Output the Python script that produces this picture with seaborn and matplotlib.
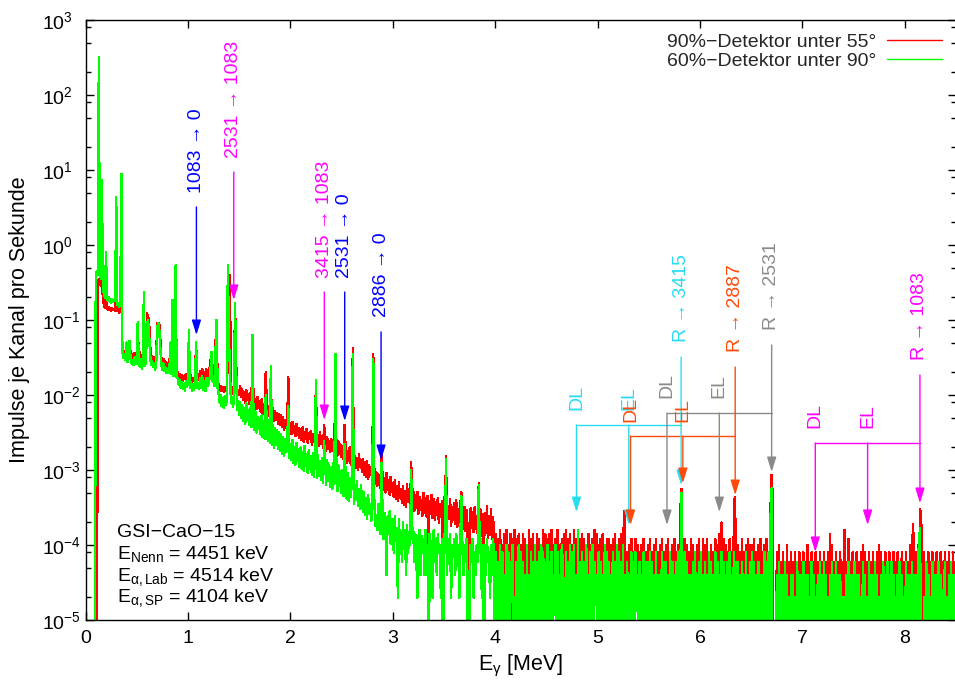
import numpy as np
import pandas as pd
import matplotlib
matplotlib.use("Agg")
import matplotlib.pyplot as plt
from matplotlib.lines import Line2D
from matplotlib.ticker import FixedLocator, LogLocator, LogFormatterMathtext, NullFormatter
import seaborn as sns

# ---------------------------------------------------------------------------
# Spectrum data, 10 keV bins
# 0.00-3.99 MeV: log10(rate / s^-1) in hundredths of a decade (-700 = empty bin)
# ---------------------------------------------------------------------------
red_log_lo = [
    -700, -700, -700, -700, -700, -700, -700, -700, -700, -700,
    -700, -700, -52, -45, -50, -55, -48, -70, -80, -84,
    -40, -84, -87, -83, -86, -88, -84, -87, -85, -88,
    -60, -88, -86, -90, -87, -40, -138, -145, -141, -148,
    -135, -150, -141, -135, -143, -152, -146, -149, -144, -151,
    -146, -103, -150, -143, -153, -147, -155, -75, -149, -154,
    -91, -95, -100, -130, -152, -148, -156, -150, -158, -153,
    -104, -108, -104, -125, -150, -157, -152, -160, -155, -161,
    -158, -163, -157, -130, -162, -90, -166, -160, -40, -168,
    -170, -176, -172, -179, -173, -181, -175, -178, -172, -182,
    -176, -125, -179, -174, -183, -177, -180, -174, -130, -182,
    -172, -180, -168, -177, -165, -179, -170, -182, -166, -176,
    -175, -168, -153, -178, -170, -160, -176, -130, -104, -180,
    -187, -193, -188, -195, -190, -196, -189, -194, -191, -150,
    -120, -40, -196, -190, -199, -192, -77, -150, -201, -195,
    -200, -188, -203, -192, -207, -196, -210, -194, -206, -199,
    -212, -197, -214, -130, -201, -216, -205, -219, -203, -217,
    -208, -222, -206, -225, -212, -224, -169, -213, -228, -215,
    -230, -185, -232, -218, -235, -221, -233, -224, -238, -226,
    -240, -227, -243, -230, -246, -233, -241, -236, -176, -249,
    -238, -252, -236, -250, -241, -255, -239, -253, -244, -257,
    -246, -260, -243, -262, -249, -258, -245, -264, -251, -259,
    -248, -266, -252, -263, -257, -185, -270, -254, -268, -250,
    -265, -255, -271, -240, -258, -274, -256, -272, -261, -276,
    -259, -275, -263, -278, -155, -270, -281, -262, -279, -266,
    -283, -268, -286, -240, -272, -290, -275, -288, -270, -293,
    -278, -137, -294, -281, -297, -284, -300, -279, -296, -287,
    -302, -285, -306, -290, -309, -288, -312, -294, -307, -296,
    -315, -145, -298, -318, -303, -321, -306, -316, -324, -273,
    -308, -327, -311, -330, -304, -326, -314, -333, -309, -329,
    -318, -336, -314, -339, -322, -341, -316, -337, -325, -344,
    -321, -346, -328, -349, -319, -343, -331, -352, -289, -347,
    -326, -355, -333, -350, -329, -358, -336, -353, -340, -361,
    -331, -357, -338, -362, -335, -400, -341, -359, -333, -364,
    -339, -366, -343, -360, -337, -370, -345, -363, -341, -470,
    -336, -368, -282, -371, -348, -365, -339, -374, -350, -367,
    -344, -372, -340, -376, -352, -369, -346, -330, -355, -378,
    -349, -381, -353, -374, -700, -385, -351, -377, -356, -383,
    -350, -379, -362, -386, -317, -380, -354, -388, -359, -410,
    -357, -384, -348, -391, -361, -387, -352, -392, -363, -389,
]

green_log_lo = [
    -700, -700, -700, -700, -700, -700, -700, -700, -700, -700,
    -45, -35, -40, 250, -38, -45, 87, -55, -65, -70,
    -10, -72, -75, -70, -74, -77, -72, -76, -73, -75,
    64, -80, -78, -82, -79, 95, -142, -150, -146, -153,
    -130, -156, -148, -128, -151, -158, -153, -160, -150, -157,
    -159, -103, -155, -162, -152, -165, -158, -63, -161, -156,
    -110, -100, -115, -145, -160, -155, -163, -158, -166, -161,
    -110, -104, -112, -135, -160, -166, -158, -168, -163, -170,
    -166, -171, -165, -130, -172, -73, -175, -168, -27, -176,
    -178, -186, -180, -190, -183, -192, -185, -194, -181, -189,
    -185, -113, -191, -183, -195, -186, -193, -184, -130, -190,
    -184, -192, -178, -190, -175, -193, -181, -195, -177, -188,
    -186, -179, -170, -143, -182, -175, -188, -140, -100, -191,
    -198, -210, -200, -215, -204, -217, -201, -213, -206, -27,
    -120, -165, -210, -203, -216, -206, -77, -160, -220, -208,
    -227, -210, -231, -213, -235, -217, -238, -211, -233, -220,
    -240, -218, -243, -120, -226, -247, -222, -250, -229, -245,
    -231, -253, -227, -256, -235, -258, -200, -238, -261, -233,
    -264, -161, -267, -240, -270, -244, -266, -247, -272, -250,
    -275, -252, -278, -256, -281, -259, -276, -262, -215, -284,
    -266, -287, -260, -290, -269, -293, -264, -288, -272, -296,
    -270, -298, -276, -301, -268, -295, -279, -304, -273, -299,
    -282, -306, -277, -309, -286, -180, -311, -280, -308, -288,
    -313, -284, -317, -262, -290, -320, -287, -315, -293, -322,
    -296, -325, -291, -318, -145, -299, -328, -294, -321, -302,
    -331, -300, -335, -265, -308, -338, -304, -341, -311, -336,
    -318, -145, -345, -322, -340, -315, -348, -326, -352, -320,
    -343, -356, -330, -360, -338, -365, -334, -358, -346, -368,
    -352, -152, -339, -374, -360, -380, -345, -371, -385, -290,
    -350, -392, -357, -370, -440, -362, -385, -355, -398, -366,
    -372, -410, -361, -395, -378, -470, -365, -400, -383, -422,
    -369, -405, -380, -440, -374, -410, -386, -400, -300, -392,
    -378, -422, -385, -410, -470, -392, -380, -440, -388, -410,
    -392, -440, -380, -422, -400, -700, -385, -410, -395, -470,
    -380, -422, -392, -440, -385, -410, -400, -470, -392, -700,
    -385, -410, -285, -440, -392, -422, -385, -470, -400, -410,
    -392, -440, -385, -422, -400, -470, -392, -335, -400, -440,
    -400, -422, -392, -470, -700, -440, -400, -422, -392, -470,
    -410, -440, -400, -422, -320, -410, -392, -470, -400, -700,
    -400, -440, -392, -422, -410, -470, -400, -440, -392, -422,
]

# 4.00-8.49 MeV: counts per bin, one digit per bin (one string per 100 keV)
red_counts_hi = (
    "0706080507" "0805170608" "0607050706" "0508060725" "0706050807"
    "0607080516" "0805060708" "0607250806" "0506070605" "0705060827"
    "0506070506" "0605160705" "0607050604" "0506040615" "0405060405"
    "0604150604" "0506040516" "0405060405" "0500060504" "0605041506"
    "0406050604" "0504060507" "0706050406" "0405060504" "0604050615"
    "0506040506" "0405060400" "0000040503" "0403050304" "0304030403"
    "0403050304" "0304030413" "0403040305" "0304030403" "0403060304"
    "0304130405" "0403040304" "0304050403" "0403040314" "0304030403"
    "0403050304" "0405000304" "0304030403" "0403140304" "0304030403"
)
green_counts_hi = (
    "0403050402" "0504031501" "0305040302" "0502040305" "0304052403"
    "0503040215" "0402053104" "0305040502" "0803040305" "0204050312"
    "0403020504" "0302140305" "0403050203" "0204030412" "0302041303"
    "0403020402" "0214030302" "0403020304" "0300040302" "0203041203"
    "0402030204" "0302042302" "0403020314" "0204030302" "0312040203"
    "0403020302" "0204030402" "0000020302" "0203020102" "0201030212"
    "0302020103" "0201020302" "0302010203" "0203021201" "0102030202"
    "0302020103" "0201030212" "0302010203" "0203020302" "0102031201"
    "0302020302" "0203020001" "0302010302" "0203021103" "0102030202"
)
rate_per_count = 2.0e-5

# single bins above 4 MeV that exceed one digit: (E / MeV, rate / s^-1)
red_lines_hi = [
    (5.26, 2.8e-4), (5.81, 3.2e-4), (5.82, 5.6e-4), (6.21, 2.0e-4),
    (6.33, 2.2e-4), (6.34, 4.4e-4), (6.69, 3.5e-4), (6.70, 8.6e-4),
    (6.71, 4.5e-4), (7.27, 1.4e-4), (7.41, 1.6e-4), (8.08, 1.9e-4),
    (8.15, 3.0e-4), (8.16, 2.2e-4),
]
green_lines_hi = [
    (5.82, 5.0e-4), (6.69, 2.5e-4), (6.70, 5.7e-4), (8.14, 1.2e-4),
    (8.15, 1.7e-4),
]

series_labels = ["90%−Detektor unter 55°", "60%−Detektor unter 90°"]
series_colors = ["#ff0000", "#00ff00"]

# gamma transitions marked with single arrows: label, E / MeV, colour, text, arrow start, arrow tip
single_marks = [
    ("1083 → 0", 1.083, "#0000ff", 4.93, 3.21, 0.0631),
    ("2531 → 1083", 1.448, "#ff00ff", 14.5, 9.40, 0.185),
    ("3415 → 1083", 2.332, "#ff00ff", 0.363, 0.236, 4.64e-3),
    ("2531 → 0", 2.531, "#0000ff", 0.363, 0.236, 4.50e-3),
    ("2886 → 0", 2.886, "#0000ff", 0.110, 0.0692, 1.36e-3),
]

# resonance transitions with escape lines:
# label, E / MeV, colour, text, start, tip, branch, DL tip, EL tip, DL/EL text
resonance_marks = [
    ("R → 3415", 5.816, "#28dcf0", 0.0509, 0.0321, 6.31e-4, 3.98e-3, 2.75e-4, 1.85e-4, 6.31e-3),
    ("R → 2887", 6.344, "#ff4a0a", 0.0374, 0.0236, 4.64e-4, 2.84e-3, 1.85e-4, 6.71e-4, 4.37e-3),
    ("R → 2531", 6.700, "#8a8a8a", 0.0736, 0.0464, 9.40e-4, 5.75e-3, 1.85e-4, 2.75e-4, 9.12e-3),
    ("R → 1083", 8.148, "#ff00ff", 0.0293, 0.0185, 3.63e-4, 2.29e-3, 8.07e-5, 1.85e-4, 3.63e-3),
]
pair_mass = 0.511  # MeV

info_lines = [
    "GSI−CaO−15",
    r"E$_\mathregular{Nenn}$ = 4451 keV",
    r"E$_\mathregular{α,Lab}$ = 4514 keV",
    r"E$_\mathregular{α,SP}$ = 4104 keV",
]

# ---------------------------------------------------------------------------
sns.set_theme(style="ticks")
plt.rcParams["font.family"] = ["Liberation Sans", "DejaVu Sans"]
plt.rcParams["mathtext.fontset"] = "custom"
plt.rcParams["mathtext.rm"] = "Liberation Sans"
plt.rcParams["mathtext.it"] = "Liberation Sans:italic"
plt.rcParams["mathtext.bf"] = "Liberation Sans:bold"
FS = 14
FS_AXIS = 15.5

empty_rate = 1e-7


def build_rate(log_lo, counts_hi, lines_hi):
    lo = 10.0 ** (np.asarray(log_lo, dtype=float) / 100.0)
    hi = np.array([int(c) for c in counts_hi], dtype=float) * rate_per_count
    for e, r in lines_hi:
        hi[int(round((e - 4.0) * 100))] = r
    rate = np.concatenate([lo, hi])
    rate[rate <= 0] = empty_rate
    return rate


n_bins = len(red_log_lo) + len(red_counts_hi)
energy = np.arange(n_bins) / 100.0
df = pd.DataFrame({
    "E": np.tile(energy, 2),
    "rate": np.concatenate([
        build_rate(red_log_lo, red_counts_hi, red_lines_hi),
        build_rate(green_log_lo, green_counts_hi, green_lines_hi),
    ]),
    "Detektor": np.repeat(series_labels, n_bins),
})

W, H = 955, 681
fig = plt.figure(figsize=(W / 100, H / 100), dpi=100)
ax_left, ax_right, ax_top, ax_bottom = 85.5, 956.0, 20.0, 620.0
ax = fig.add_axes([ax_left / W, 1 - ax_bottom / H, (ax_right - ax_left) / W, (ax_bottom - ax_top) / H])
ax.set_yscale("log")
ax.set_xlim(0, 8.5)
ax.set_ylim(1e-5, 1e3)

sns.lineplot(data=df, x="E", y="rate", hue="Detektor", hue_order=series_labels,
             palette=series_colors, estimator=None, lw=1.0, antialiased=False,
             legend=False, ax=ax)

# axes, ticks
for sp in ax.spines.values():
    sp.set_linewidth(1.0)
    sp.set_color("black")
ax.xaxis.set_major_locator(FixedLocator(np.arange(0, 9)))
ax.yaxis.set_major_locator(LogLocator(base=10, numticks=20))
ax.yaxis.set_minor_locator(LogLocator(base=10, subs=[2, 5, 8], numticks=20))
ax.yaxis.set_major_formatter(LogFormatterMathtext())
ax.yaxis.set_minor_formatter(NullFormatter())
ax.tick_params(axis="both", which="both", direction="in", top=True, right=True,
               colors="black", labelsize=FS)
ax.tick_params(axis="both", which="major", length=6, width=1.0)
ax.tick_params(axis="y", which="minor", length=3.5, width=1.0)
ax.tick_params(axis="x", which="major", pad=7)
ax.tick_params(axis="y", which="major", pad=31)
plt.setp(ax.get_yticklabels(), ha="left")

ax.set_xlabel(r"E$_\mathregular{γ}$ [MeV]", fontsize=FS_AXIS, color="black")
ax.set_ylabel("Impulse je Kanal pro Sekunde", fontsize=FS_AXIS, color="black")
ax.xaxis.set_label_coords(0.5, -0.055)
ax.yaxis.set_label_coords(-0.064, 0.5)

# legend: text first, line sample after it
handles = [Line2D([], [], color=c, lw=1.0) for c in series_colors]
ax.legend(handles, series_labels, loc="upper right", bbox_to_anchor=(942 / W, 1 - 33 / H),
          bbox_transform=fig.transFigure, frameon=False, markerfirst=False,
          handlelength=2.85, handletextpad=0.55, fontsize=FS, borderpad=0,
          borderaxespad=0, labelspacing=0.08)

# run information
for i, line in enumerate(info_lines):
    fig.text(117 / W, 1 - (537 + 21.8 * i) / H, line, fontsize=FS, ha="left",
             va="baseline", color="black")

arrow_kw = dict(arrowstyle="-|>,head_length=0.9,head_width=0.28", mutation_scale=10,
                shrinkA=0, shrinkB=0, lw=1.0)


def arrow(x, y0, y1, color):
    ax.annotate("", xy=(x, y1), xytext=(x, y0),
                arrowprops=dict(color=color, **arrow_kw), annotation_clip=False)


def vlabel(x, y, text, color):
    ax.text(x, y, text, rotation=90, ha="center", va="bottom", color=color, fontsize=FS)


for label, e, col, ty, y0, y1 in single_marks:
    vlabel(e, ty, label, col)
    arrow(e, y0, y1, col)

for label, e, col, ty, y0, y1, yb, dl_tip, el_tip, esc_ty in resonance_marks:
    e_dl, e_el = e - 2 * pair_mass, e - pair_mass
    vlabel(e, ty, label, col)
    arrow(e, y0, y1, col)
    ax.plot([e_dl, e], [yb, yb], color=col, lw=1.0)
    arrow(e_dl, yb, dl_tip, col)
    arrow(e_el, yb, el_tip, col)
    vlabel(e_dl, esc_ty, "DL", col)
    vlabel(e_el, esc_ty, "EL", col)

fig.savefig("out.png", dpi=100)
